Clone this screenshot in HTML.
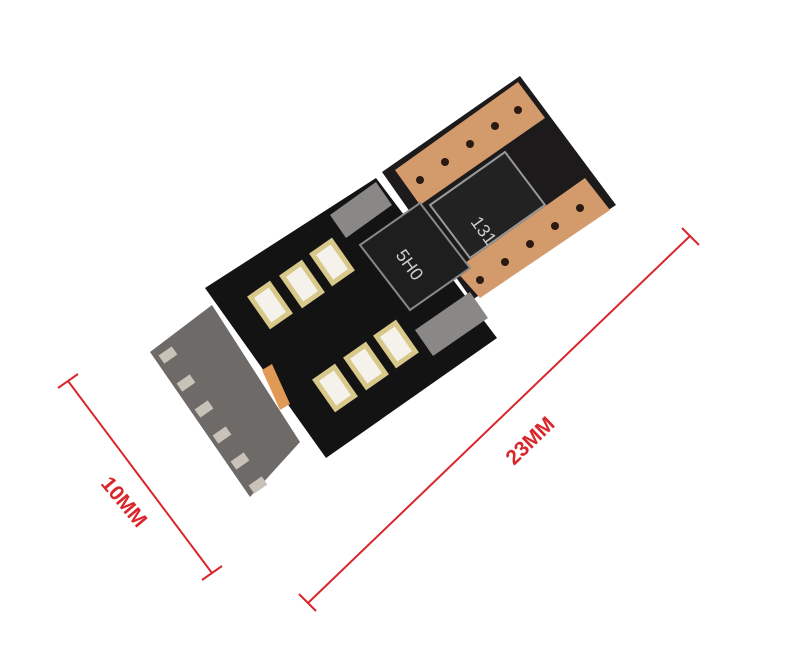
<!DOCTYPE html>
<html><head><meta charset="utf-8"><style>
html,body{margin:0;padding:0;background:#fff;}
svg{display:block;}
</style></head><body>
<svg width="790" height="656" viewBox="0 0 790 656" xmlns="http://www.w3.org/2000/svg">
<rect width="790" height="656" fill="#fff"/>
<g stroke="#d9262b" stroke-width="2">
<line x1="68" y1="381" x2="212" y2="573"/>
<line x1="58" y1="388" x2="78" y2="374"/>
<line x1="202" y1="580" x2="222" y2="566"/>
<line x1="308" y1="603" x2="690" y2="236"/>
<line x1="299" y1="594" x2="316" y2="611"/>
<line x1="682" y1="228" x2="699" y2="245"/>
</g>
<text transform="translate(100,484) rotate(50)" font-family="Liberation Sans, sans-serif" font-size="21" font-weight="bold" fill="#d9262b">10MM</text>
<text transform="translate(514,466) rotate(-44)" font-family="Liberation Sans, sans-serif" font-size="21" font-weight="bold" fill="#d9262b">23MM</text>
<polygon points="382,172 520,76 616,205 472,300" fill="#1c1a1a"/>
<polygon points="395,170 518,82 545,118 420,205" fill="#d39a6c"/>
<polygon points="455,270 585,178 610,210 480,298" fill="#d39a6c"/>
<g fill="#2a1a12">
<circle cx="420" cy="180" r="4"/><circle cx="445" cy="162" r="4"/><circle cx="470" cy="144" r="4"/><circle cx="495" cy="126" r="4"/><circle cx="518" cy="110" r="4"/>
<circle cx="480" cy="280" r="4"/><circle cx="505" cy="262" r="4"/><circle cx="530" cy="244" r="4"/><circle cx="555" cy="226" r="4"/><circle cx="580" cy="208" r="4"/>
</g>
<polygon points="430,205 505,152 545,205 470,258" fill="#222" stroke="#999" stroke-width="2"/>
<text transform="translate(470,222) rotate(54)" font-family="Liberation Sans, sans-serif" font-size="18" fill="#ccc">131</text>
<polygon points="150,352 212,305 300,442 250,497" fill="#6e6a68"/>
<g fill="#c9c2b8">
<rect x="160" y="350" width="16" height="10" transform="rotate(-35 168 355)"/>
<rect x="178" y="378" width="16" height="10" transform="rotate(-35 186 383)"/>
<rect x="196" y="404" width="16" height="10" transform="rotate(-35 204 409)"/>
<rect x="214" y="430" width="16" height="10" transform="rotate(-35 222 435)"/>
<rect x="232" y="456" width="16" height="10" transform="rotate(-35 240 461)"/>
<rect x="250" y="480" width="16" height="10" transform="rotate(-35 258 485)"/>
</g>
<polygon points="205,288 376,178 497,338 326,458" fill="#141313"/>
<polygon points="330,215 376,182 392,205 346,238" fill="#8a8886"/>
<polygon points="415,330 470,292 488,318 433,356" fill="#8a8886"/>
<polygon points="360,245 420,203 470,268 410,310" fill="#1e1e1e" stroke="#888" stroke-width="2"/>
<text transform="translate(395,255) rotate(54)" font-family="Liberation Sans, sans-serif" font-size="18" fill="#ccc">5H0</text>
<polygon points="262,370 272,364 290,404 280,410" fill="#e09a55"/>
<g>
<g transform="translate(270,305) rotate(-35)"><rect x="-14" y="-20" width="28" height="40" fill="#d8c98a"/><rect x="-9" y="-15" width="18" height="30" fill="#f4f2ea"/></g>
<g transform="translate(302,284) rotate(-35)"><rect x="-14" y="-20" width="28" height="40" fill="#d8c98a"/><rect x="-9" y="-15" width="18" height="30" fill="#f4f2ea"/></g>
<g transform="translate(332,262) rotate(-35)"><rect x="-14" y="-20" width="28" height="40" fill="#d8c98a"/><rect x="-9" y="-15" width="18" height="30" fill="#f4f2ea"/></g>
<g transform="translate(335,388) rotate(-35)"><rect x="-14" y="-20" width="28" height="40" fill="#d8c98a"/><rect x="-9" y="-15" width="18" height="30" fill="#f4f2ea"/></g>
<g transform="translate(366,366) rotate(-35)"><rect x="-14" y="-20" width="28" height="40" fill="#d8c98a"/><rect x="-9" y="-15" width="18" height="30" fill="#f4f2ea"/></g>
<g transform="translate(396,344) rotate(-35)"><rect x="-14" y="-20" width="28" height="40" fill="#d8c98a"/><rect x="-9" y="-15" width="18" height="30" fill="#f4f2ea"/></g>
</g>
</svg>
</body></html>
